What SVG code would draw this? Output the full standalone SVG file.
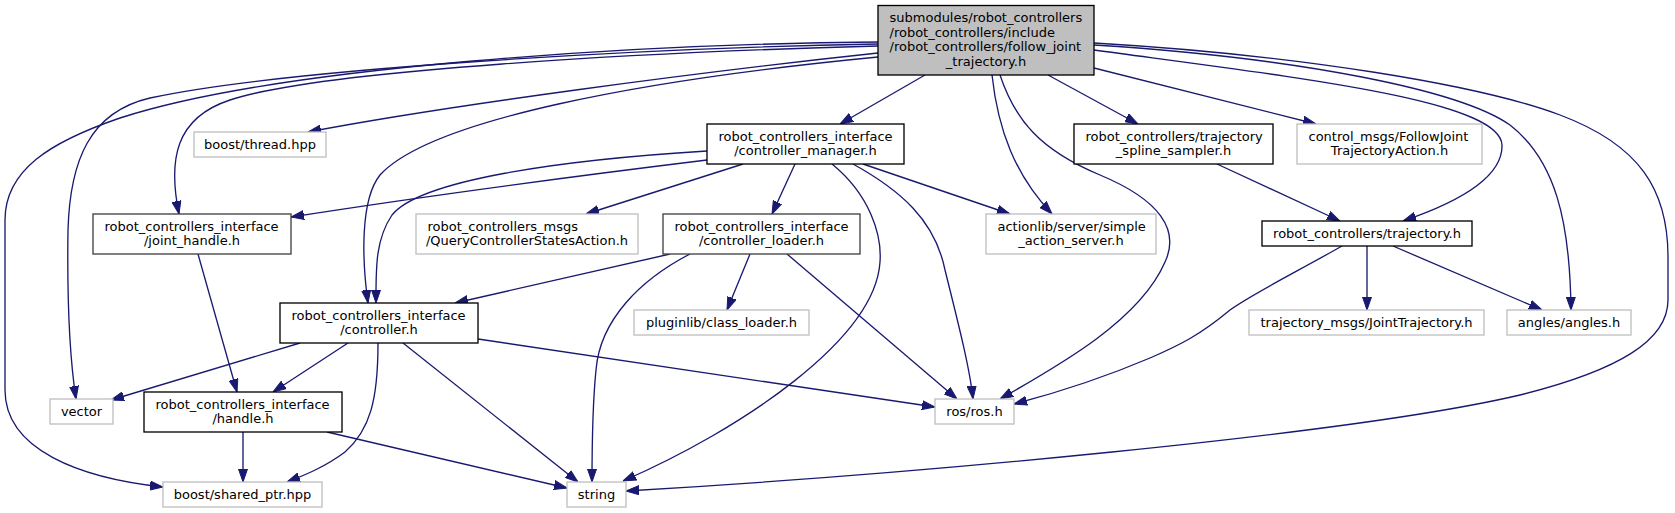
<svg xmlns="http://www.w3.org/2000/svg" width="1675" height="513" viewBox="0 0 1675 513">
<style>
text{font-family:"DejaVu Sans","Liberation Sans",sans-serif;font-size:13px;fill:#000}
.c{text-anchor:middle}
.s{text-anchor:start}
rect{stroke-width:1.33}
.k{fill:#fff;stroke:#000}
.d{fill:#fff;stroke:#404040}
.g{fill:#fff;stroke:#bfbfbf}
.m{fill:#bfbfbf;stroke:#000}
#edges path{fill:none;stroke:#191970;stroke-width:1.33;marker-end:url(#a)}
</style>
<defs>
<marker id="a" viewBox="0 0 13 10" refX="13" refY="5" markerWidth="13" markerHeight="10" orient="auto" markerUnits="userSpaceOnUse">
<path d="M0,0.5 L13,5 L0,9.5 z" fill="#191970" stroke="#191970" stroke-width="1"/>
</marker>
</defs>
<rect width="1675" height="513" fill="#fff"/>
<g id="edges">
<path d="M878,53 C 700,72 450,105 308,132"/>
<path d="M878,46 C 650,52 320,70 230,100 C 175,118 168,160 179,214"/>
<path d="M878,42 C 640,44 280,66 120,118 C 50,142 5,170 5,220 L5,390 C 5,450 80,478 163,487"/>
<path d="M878,44 C 650,48 290,68 150,98 C 90,112 70,160 68,230 C 67,300 70,360 76,399"/>
<path d="M878,57 C 640,80 430,120 380,175 C 360,200 362,260 368,303"/>
<path d="M707,160 C 560,178 400,200 291,217"/>
<path d="M707,151 C 560,160 420,180 392,215 C 375,240 376,270 376,303"/>
<path d="M743,164 L586,214"/>
<path d="M795,164 L772,214"/>
<path d="M832,164 C 870,195 882,235 880,262 C 875,340 740,430 623,481"/>
<path d="M853,164 C 900,190 935,220 945,270 C 960,330 970,370 973,399"/>
<path d="M863,164 L1010,214"/>
<path d="M925,75 L840,124"/>
<path d="M1048,75 L1138,124"/>
<path d="M1094,68 L1316,124"/>
<path d="M992,75 C 998,130 1015,175 1052,214"/>
<path d="M1000,75 C 1015,120 1040,150 1100,175 C 1160,200 1180,230 1165,262 C 1140,320 1060,365 1000,399"/>
<path d="M1094,50 C 1300,78 1500,100 1502,145 C 1503,180 1450,205 1403,221"/>
<path d="M1094,45 C 1300,58 1460,90 1510,125 C 1555,160 1570,220 1571,310"/>
<path d="M1094,43 C 1300,55 1480,85 1560,115 C 1640,145 1668,190 1668,257 L1668,300 C 1668,340 1620,370 1520,395 C 1350,435 900,475 626,491"/>
<path d="M670,254 L455,303"/>
<path d="M690,254 C 640,280 600,320 596,370 C 592,410 592,450 592,482"/>
<path d="M750,254 L727,310"/>
<path d="M787,254 L957,399"/>
<path d="M300,343 L111,400"/>
<path d="M348,343 L273,392"/>
<path d="M378,343 C 378,400 370,430 345,452 C 325,467 305,475 287,482"/>
<path d="M403,343 L578,482"/>
<path d="M478,339 L935,407"/>
<path d="M198,254 L237,392"/>
<path d="M243,432 L243,482"/>
<path d="M327,432 L567,488"/>
<path d="M1217,164 L1340,221"/>
<path d="M1342,246 C 1300,270 1250,295 1230,310 C 1200,335 1180,345 1150,358 C 1110,375 1060,392 1014,404"/>
<path d="M1367,246 L1367,310"/>
<path d="M1393,246 L1542,310"/>
</g>
<g id="n_main"><rect class="m" x="878" y="5.5" width="216" height="69.5"/>
<text class="s" x="889.5" y="22">submodules/robot_controllers</text>
<text class="s" x="889.5" y="36.7">/robot_controllers/include</text>
<text class="s" x="889.5" y="51.3">/robot_controllers/follow_joint</text>
<text class="c" x="986" y="66">_trajectory.h</text></g>
<g id="n_thread"><rect class="g" x="194" y="132" width="132" height="25"/><text class="c" x="260" y="148.5">boost/thread.hpp</text></g>
<g id="n_cm"><rect class="k" x="707" y="124" width="197" height="40"/>
<text class="s" x="718.5" y="140.5">robot_controllers_interface</text>
<text class="c" x="805.5" y="155.2">/controller_manager.h</text></g>
<g id="n_tss"><rect class="k" x="1074" y="124" width="199" height="40"/>
<text class="s" x="1085.5" y="140.5">robot_controllers/trajectory</text>
<text class="c" x="1173.5" y="155.2">_spline_sampler.h</text></g>
<g id="n_cmsgs"><rect class="g" x="1297" y="124" width="185" height="40"/>
<text class="s" x="1308.5" y="140.5">control_msgs/FollowJoint</text>
<text class="c" x="1389.5" y="155.2">TrajectoryAction.h</text></g>
<g id="n_jh"><rect class="d" x="93" y="214" width="198" height="40"/>
<text class="s" x="104.5" y="230.5">robot_controllers_interface</text>
<text class="c" x="192" y="245.2">/joint_handle.h</text></g>
<g id="n_rcm"><rect class="g" x="416" y="214" width="222" height="40"/>
<text class="s" x="427.5" y="230.5">robot_controllers_msgs</text>
<text class="c" x="527" y="245.2">/QueryControllerStatesAction.h</text></g>
<g id="n_cl"><rect class="d" x="663" y="214" width="197" height="40"/>
<text class="s" x="674.5" y="230.5">robot_controllers_interface</text>
<text class="c" x="761.5" y="245.2">/controller_loader.h</text></g>
<g id="n_al"><rect class="g" x="986" y="214" width="170" height="40"/>
<text class="s" x="997.5" y="230.5">actionlib/server/simple</text>
<text class="c" x="1071" y="245.2">_action_server.h</text></g>
<g id="n_traj"><rect class="k" x="1262" y="221" width="210" height="25"/><text class="c" x="1367" y="237.5">robot_controllers/trajectory.h</text></g>
<g id="n_ctrl"><rect class="k" x="280" y="303" width="198" height="40"/>
<text class="s" x="291.5" y="319.5">robot_controllers_interface</text>
<text class="c" x="379" y="334.2">/controller.h</text></g>
<g id="n_plug"><rect class="g" x="634" y="310" width="175" height="25"/><text class="c" x="721.5" y="326.5">pluginlib/class_loader.h</text></g>
<g id="n_tmsgs"><rect class="g" x="1249" y="310" width="235" height="25"/><text class="c" x="1366.5" y="326.5">trajectory_msgs/JointTrajectory.h</text></g>
<g id="n_angles"><rect class="g" x="1507" y="310" width="124" height="25"/><text class="c" x="1569" y="326.5">angles/angles.h</text></g>
<g id="n_vector"><rect class="g" x="50" y="399" width="63" height="25"/><text class="c" x="81.5" y="415.5">vector</text></g>
<g id="n_handle"><rect class="k" x="144" y="392" width="198" height="40"/>
<text class="s" x="155.5" y="408.5">robot_controllers_interface</text>
<text class="c" x="243" y="423.2">/handle.h</text></g>
<g id="n_ros"><rect class="g" x="935" y="399" width="79" height="25"/><text class="c" x="974.5" y="415.5">ros/ros.h</text></g>
<g id="n_sp"><rect class="g" x="163" y="482" width="159" height="25"/><text class="c" x="242.5" y="498.5">boost/shared_ptr.hpp</text></g>
<g id="n_string"><rect class="g" x="567" y="482" width="59" height="25"/><text class="c" x="596.5" y="498.5">string</text></g>
</svg>
